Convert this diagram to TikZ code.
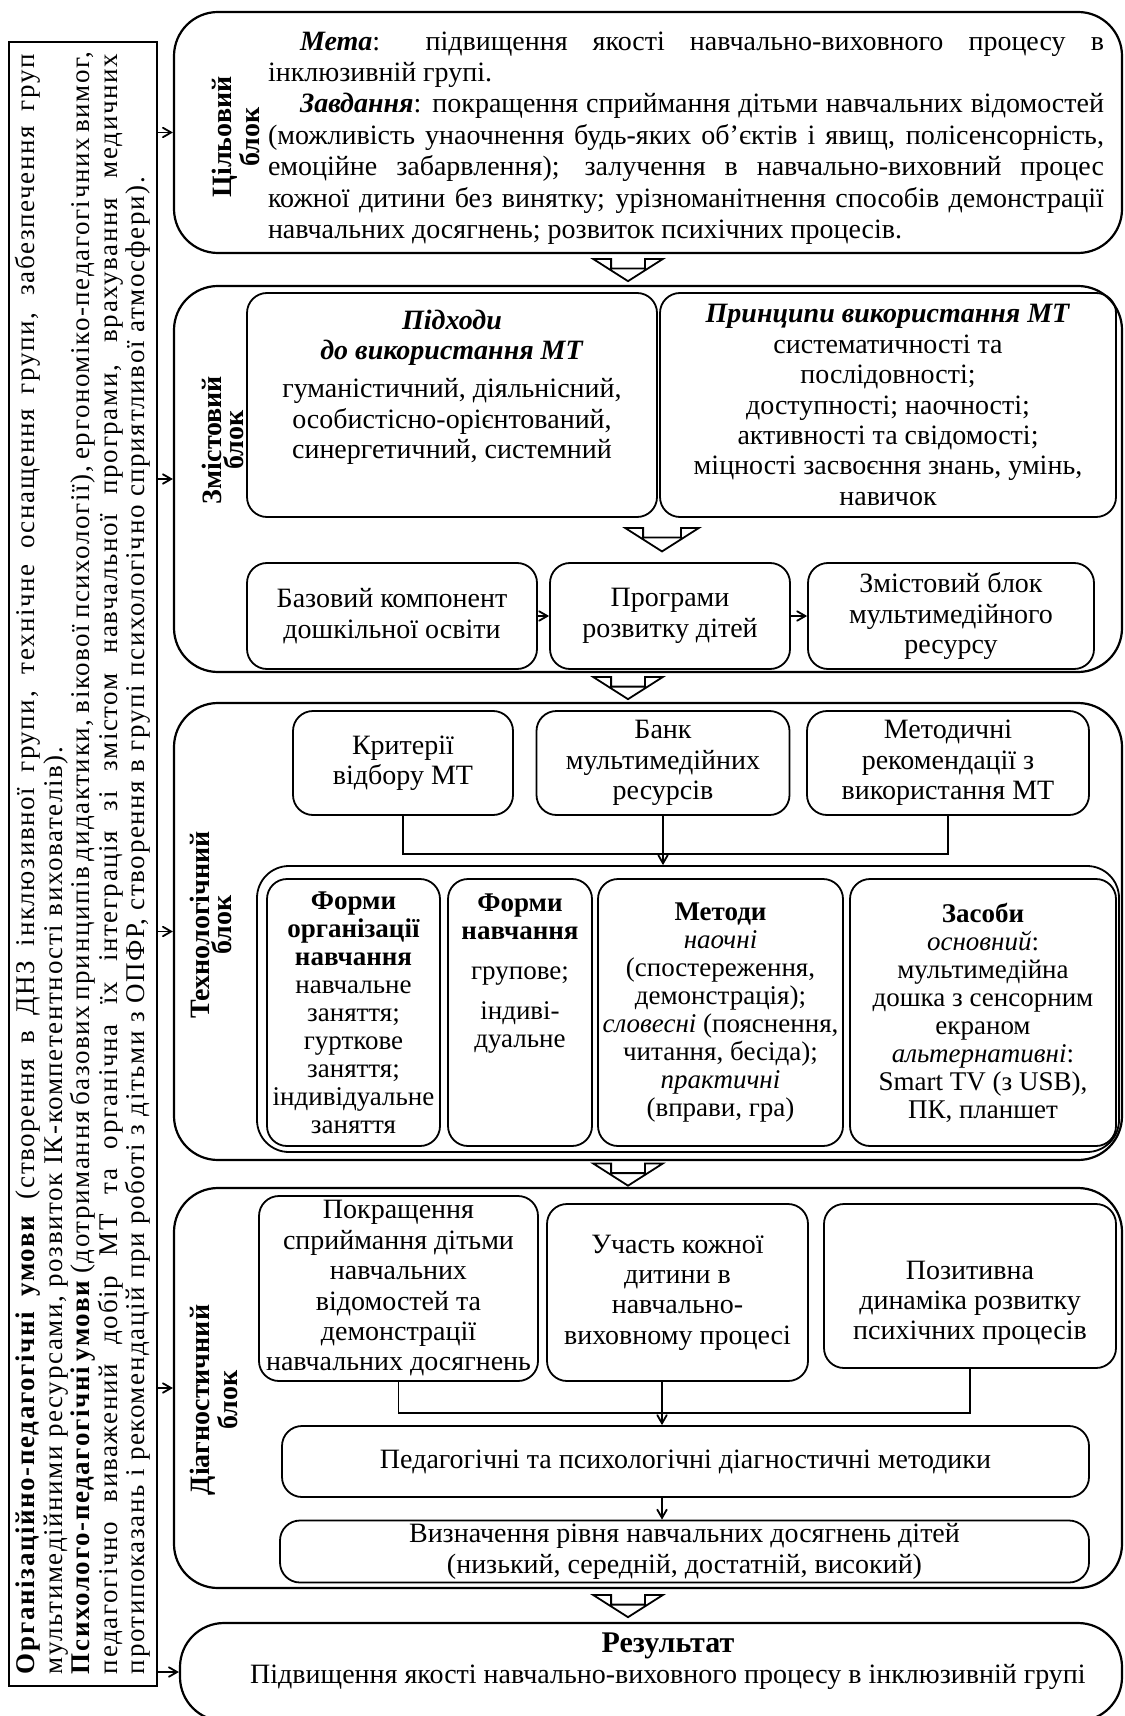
\documentclass[tikz,border=0pt]{standalone}
\usepackage{fontspec}
\setmainfont{Liberation Serif}
\usepackage{tikz}
\usetikzlibrary{
    arrows,
    shapes.arrows,
    positioning
}

\begin{document}
\begin{tikzpicture}[x=0.5pt,y=-0.5pt,>=angle 60,line width=0.9pt]
    \tikzstyle{blok}=[draw, line width=1.1pt, rounded corners=22pt, inner sep=0pt]
    \tikzstyle{box}=[draw, rounded corners=10pt, align=center, inner sep=1pt, font=\fontsize{14}{15.2}\selectfont]
    \tikzstyle{fbox}=[box, inner sep=0pt, font=\fontsize{13.5}{14}\selectfont]
    \tikzstyle{txt}=[align=center, font=\fontsize{14}{15.2}\selectfont]
    \tikzstyle{lab}=[rotate=90, align=center, font=\fontsize{14}{10}\selectfont\bfseries]
    \tikzstyle{arr}=[draw, fill=white, single arrow, rotate=-90, single arrow head extend=9pt, single arrow tip angle=115, inner xsep=0pt, inner ysep=8pt, minimum width=16pt]
    \useasboundingbox (0,0) rectangle (1124,1716);
    \node[draw, minimum width=74pt, minimum height=822pt] (umovy) at (83,864) {};
    \node[rotate=90, text width=810pt, align=justify, font=\fontsize{13.5}{13.8}\selectfont\addfontfeatures{LetterSpace=6}] at (umovy.center) {\textbf{Організаційно-педагогічні умови} (створення в ДНЗ інклюзивної групи, технічне оснащення групи, забезпечення груп\linebreak мультимедійними ресурсами, розвиток ІК-компетентності вихователів).\par\textbf{Психолого-педагогічні умови} (дотримання базових принципів дидактики, вікової психології), ергономіко-педагогічних вимог,\linebreak педагогічно виважений добір МТ та органічна їх інтеграція зі змістом навчальної програми, врахування медичних\linebreak протипоказань і рекомендацій при роботі з дітьми з ОПФР, створення в групі психологічно сприятливої атмосфери).};
    \node[blok, minimum width=474pt, minimum height=120.5pt] (cil) at (648,132.5) {};
    \node[blok, minimum width=474pt, minimum height=193pt] (zm) at (648,479) {};
    \node[blok, minimum width=474pt, minimum height=228.5pt] (teh) at (648,931.5) {};
    \node[blok, minimum width=474pt, minimum height=200pt] (diag) at (648,1388) {};
    \node[blok, minimum width=471pt, minimum height=49pt] (res) at (651,1672) {};
    \node[lab] at (236,137) {Цільовий\\блок};
    \node[lab] at (223,440) {Змістовий\\блок};
    \node[lab] at (211,925) {Технологічний\\блок};
    \node[lab] at (214,1400) {Діагностичний\\блок};
    \node[text width=418pt, align=justify, font=\fontsize{14}{15.7}\selectfont] (meta) at (686,138) {\hspace*{16pt}\textbf{\textit{Мета}}: підвищення якості навчально-виховного процесу в\linebreak інклюзивній групі.\par\hspace*{16pt}\textbf{\textit{Завдання}}: покращення сприймання дітьми навчальних відомостей\linebreak (можливість унаочнення будь-яких об’єктів і явищ, полісенсорність,\linebreak емоційне забарвлення); залучення в навчально-виховний процес\linebreak кожної дитини без винятку; урізноманітнення способів демонстрації\linebreak навчальних досягнень; розвиток психічних процесів.};
    \node[box, minimum width=205pt, minimum height=112pt] (pidh) at (452,405) {};
    \node[txt, below=5pt of pidh.north] {\textbf{\textit{Підходи}}\\\textbf{\textit{до використання МТ}}\\[4pt]гуманістичний, діяльнісний,\\особистісно-орієнтований,\\синергетичний, системний};
    \node[box, minimum width=228pt, minimum height=112pt] (pryn) at (888,405) {\textbf{\textit{Принципи використання МТ}}\\систематичності та\\послідовності;\\доступності; наочності;\\активності та свідомості;\\міцності засвоєння знань, умінь,\\навичок};
    \node[arr, inner ysep=9pt, minimum width=21.5pt] at (662,538.5) {};
    \node[box, minimum width=145pt, minimum height=53pt] (baz) at (392,616) {Базовий компонент\\дошкільної освіти};
    \node[box, minimum width=120pt, minimum height=53pt] (prog) at (670,616) {Програми\\розвитку дітей};
    \node[box, minimum width=143pt, minimum height=53pt] (zmist) at (951,616) {Змістовий блок\\мультимедійного\\ресурсу};
    \path (baz) edge[->] (prog);
    \path (prog) edge[->] (zmist);
    \node[box, minimum width=110pt, minimum height=52pt] (krit) at (403,763) {Критерії\\відбору МТ};
    \node[box, minimum width=126.5pt, minimum height=52pt] (bank) at (663,763) {Банк\\мультимедійних\\ресурсів};
    \node[box, minimum width=141pt, minimum height=52pt] (metod) at (948,763) {Методичні\\рекомендації з\\використання МТ};
    \node[draw, rounded corners=16pt, minimum width=431pt, minimum height=143pt] (kont) at (688,1009) {};
    \draw (krit.south) -- ++(0,38) -| (metod.south);
    \draw[->] (bank.south) -- (bank.south |- kont.north);
    \node[fbox, minimum width=86.5pt, minimum height=133.5pt] (forg) at (353.5,1012.5) {\textbf{Форми}\\\textbf{організації}\\\textbf{навчання}\\навчальне\\заняття;\\гурткове\\заняття;\\індивідуальне\\заняття};
    \node[fbox, minimum width=72pt, minimum height=133.5pt] (fnav) at (520,1012.5) {};
    \node[below=4pt of fnav.north, align=center, font=\fontsize{13.5}{14}\selectfont] {\textbf{Форми}\\\textbf{навчання}\\[6pt]групове;\\[6pt]індиві-\\дуальне};
    \node[fbox, minimum width=122.5pt, minimum height=133.5pt] (meth) at (720.5,1012.5) {\textbf{Методи}\\\textit{наочні}\\(спостереження,\\демонстрація);\\\textit{словесні} (пояснення,\\читання, бесіда);\\\textit{практичні}\\(вправи, гра)};
    \node[fbox, minimum width=133pt, minimum height=133.5pt] (zas) at (983,1012.5) {\textbf{Засоби}\\\textit{основний}:\\мультимедійна\\дошка з сенсорним\\екраном\\\textit{альтернативні}:\\Smart TV (з USB),\\ПК, планшет};
    \node[box, minimum width=139.5pt, minimum height=92.5pt] (d1) at (398.5,1288.5) {Покращення\\сприймання дітьми\\навчальних\\відомостей та\\демонстрації\\навчальних досягнень};
    \node[box, minimum width=130.5pt, minimum height=88.5pt] (d2) at (677.5,1292.5) {Участь кожної\\дитини в\\навчально-\\виховному процесі};
    \node[box, minimum width=146pt, minimum height=82pt] (d3) at (970,1286) {};
    \node[txt, below=25pt of d3.north] {Позитивна\\динаміка розвитку\\психічних процесів};
    \node[box, minimum width=403.5pt, minimum height=35.5pt] (ped) at (685.5,1461.5) {Педагогічні та психологічні діагностичні методики};
    \node[box, minimum width=404.5pt, minimum height=31pt] (vyzn) at (684.5,1551.5) {Визначення рівня навчальних досягнень дітей\\(низький, середній, достатній, високий)};
    \coordinate (ax) at (662,0);
    \draw (d1.south) -- ++(0,31) -| (d3.south);
    \draw[->] (ax |- d2.south) -- (ax |- ped.north);
    \draw[->] (ax |- ped.south) -- (ax |- vyzn.north);
    \node[txt, font=\fontsize{14}{15.7}\selectfont] (rtext) at (668,1661) {{\fontsize{15}{15}\selectfont\textbf{Результат}}\\Підвищення якості навчально-виховного процесу в інклюзивній групі};
    \node[arr] at (628,269.5) {};
    \node[arr] at (628,687.5) {};
    \node[arr] at (628,1174) {};
    \node[arr] at (628,1605.5) {};
    \path (umovy.east |- cil.west) edge[->] (cil.west);
    \path (umovy.east |- zm.west) edge[->] (zm.west);
    \path (umovy.east |- teh.west) edge[->] (teh.west);
    \path (umovy.east |- diag.west) edge[->] (diag.west);
    \path (umovy.east |- res.west) edge[->] (res.west);
\end{tikzpicture}
\end{document}
